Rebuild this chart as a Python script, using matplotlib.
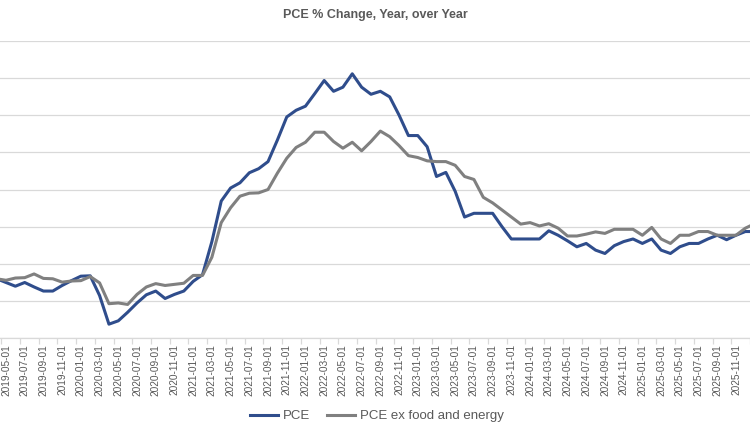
import numpy as np
import pandas as pd
import matplotlib
matplotlib.use('Agg')
import matplotlib.pyplot as plt

# monthly, 2019-04 .. 2026-01 (first and last month sit at the cropped edges)
months = pd.date_range('2019-04-01', '2026-01-01', freq='MS').strftime('%Y-%m-%d').tolist()

pce = [1.6, 1.5, 1.4, 1.5, 1.38, 1.27, 1.27, 1.42, 1.55, 1.67, 1.68,
       1.15, 0.38, 0.47, 0.7, 0.95, 1.17, 1.27, 1.07, 1.18, 1.27,
       1.53, 1.71, 2.6, 3.69, 4.04, 4.18, 4.45, 4.56, 4.75, 5.33,
       5.95, 6.13, 6.24, 6.58, 6.93, 6.64, 6.75, 7.11, 6.75, 6.56,
       6.64, 6.49, 6.0, 5.45, 5.45, 5.15, 4.35, 4.46, 3.95, 3.26,
       3.36, 3.36, 3.36, 3.0, 2.67, 2.67, 2.67, 2.67, 2.89, 2.77,
       2.62, 2.46, 2.55, 2.37, 2.28, 2.49, 2.6, 2.67, 2.55, 2.67,
       2.37, 2.28, 2.46, 2.55, 2.55, 2.67, 2.77, 2.65, 2.77, 2.87, 2.87]

core = [1.6, 1.56, 1.62, 1.63, 1.73, 1.61, 1.6, 1.51, 1.54, 1.55, 1.66,
        1.49, 0.93, 0.95, 0.91, 1.18, 1.38, 1.47, 1.42, 1.45, 1.48,
        1.69, 1.69, 2.18, 3.11, 3.51, 3.82, 3.9, 3.91, 4.0, 4.44,
        4.84, 5.13, 5.27, 5.54, 5.54, 5.29, 5.11, 5.27, 5.04, 5.29,
        5.57, 5.42, 5.18, 4.91, 4.86, 4.77, 4.75, 4.75, 4.65, 4.35,
        4.27, 3.79, 3.64, 3.45, 3.26, 3.07, 3.11, 3.02, 3.08, 2.96,
        2.75, 2.75, 2.8, 2.86, 2.82, 2.93, 2.93, 2.93, 2.77, 2.98,
        2.67, 2.55, 2.77, 2.77, 2.87, 2.87, 2.77, 2.77, 2.77, 2.96, 3.08]

x = np.arange(len(months))

fig = plt.figure(figsize=(7.5, 4.3), dpi=100)
ax = fig.add_axes([0, 1 - 338.3 / 430, 1, (338.3 - 40.7) / 430])

ax.plot(x, pce, color='#2f4d8c', lw=2.2, label='PCE', solid_joinstyle='round')
ax.plot(x, core, color='#808080', lw=2.2, label='PCE ex food and energy', solid_joinstyle='round')

ax.set_ylim(0, 8)
ax.set_xlim(1 - 0.641, 1 + 79.49)
ax.set_yticks(np.arange(0, 9, 1))
ax.tick_params(axis='y', left=False, labelleft=False)
ax.grid(axis='y', color='#d9d9d9', lw=0.9)
ax.set_axisbelow(True)
for s in ['left', 'right', 'top']:
    ax.spines[s].set_visible(False)
ax.spines['bottom'].set_color('#d9d9d9')
ax.spines['bottom'].set_linewidth(0.9)

lab_pos = x[1:80:2]
ax.set_xticks(lab_pos)
ax.set_xticklabels([months[i] for i in lab_pos], rotation=90, fontsize=7.3,
                   color='#595959', family='Liberation Sans')
ax.tick_params(axis='x', length=0, pad=4)
ax.set_xticks(np.arange(0.5, 81, 2), minor=True)
ax.tick_params(axis='x', which='minor', length=4, color='#d9d9d9', width=0.9)

fig.suptitle('PCE % Change, Year, over Year', y=1 - 15 / 430, va='center',
             fontsize=9, fontweight='bold', color='#595959', family='Liberation Sans')

fig.legend(loc='center', bbox_to_anchor=(377 / 750, 1 - 416 / 430), ncol=2,
           frameon=False, prop={'family': 'Liberation Sans', 'size': 9.5},
           labelcolor='#595959', handlelength=2.1, columnspacing=1.3, handletextpad=0.4)

fig.savefig('out.png', dpi=100)
